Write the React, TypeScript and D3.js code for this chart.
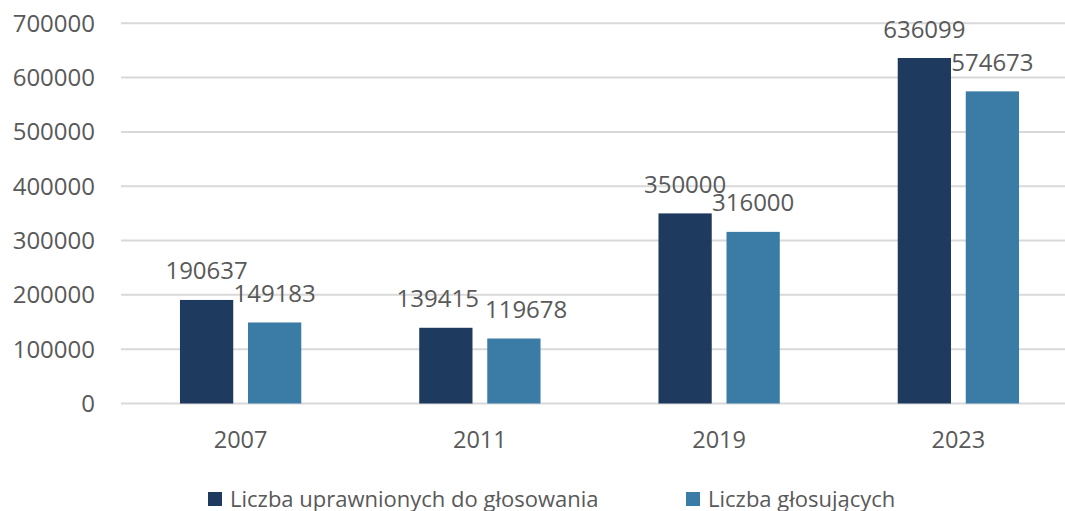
import React, { useEffect, useRef } from 'react';
import * as d3 from 'd3';

const years = ['2007', '2011', '2019', '2023'];
const uprawnieni = [190637, 139415, 350000, 636099];
const glosujacy = [149183, 119678, 316000, 574673];
const seriesNames = ['Liczba uprawnionych do głosowania', 'Liczba głosujących'];
const seriesColors = ['#1f3a5f', '#3a7ca5'];
const yTicks = [0, 100000, 200000, 300000, 400000, 500000, 600000, 700000];

const FONT = '"Open Sans", sans-serif';
const TEXT = '#595959';

export default function App() {
  const ref = useRef<SVGSVGElement>(null);

  useEffect(() => {
    const svg = d3.select(ref.current);
    svg.selectAll('*').remove();

    const left = 121, right = 1078, top = 23.3, bottom = 403.5;

    const y = d3.scaleLinear().domain([0, 700000]).range([bottom, top]);
    const x0 = d3.scaleBand().domain(years).range([left, right]).paddingInner(0.493).paddingOuter(0.2465);
    const x1 = d3.scaleBand().domain(['0', '1']).range([0, x0.bandwidth()]).paddingInner(0.217);

    // grid lines
    svg.append('g').selectAll('line').data(yTicks).join('line')
      .attr('x1', left).attr('x2', 1065)
      .attr('y1', d => y(d)).attr('y2', d => y(d))
      .attr('stroke', '#d9d9d9').attr('stroke-width', 2);

    // y tick labels
    svg.append('g').selectAll('text').data(yTicks).join('text')
      .attr('x', 95).attr('y', d => y(d) + 8.5)
      .attr('text-anchor', 'end')
      .style('font-family', FONT).style('font-size', '24px').attr('fill', TEXT)
      .text(d => String(d));

    // category labels
    svg.append('g').selectAll('text').data(years).join('text')
      .attr('x', d => (x0(d) as number) + x0.bandwidth() / 2).attr('y', 447.5)
      .attr('text-anchor', 'middle')
      .style('font-family', FONT).style('font-size', '23.5px').attr('fill', TEXT)
      .text(d => d);

    // push the two value labels of a group apart when they sit almost on the same line
    const labelW = 82.4;
    const nudge = years.map((yr, i) => {
      const dy = Math.abs(y(uprawnieni[i]) - y(glosujacy[i]));
      const dist = x1.step();
      if (dy >= 15 || dist >= labelW + 6) return [0, 0];
      const need = labelW + 6 - dist;
      return [-need * 0.4, need * 0.6];
    });

    const series = [uprawnieni, glosujacy];
    series.forEach((vals, si) => {
      const g = svg.append('g');
      const rows = years.map((yr, i) => ({ yr, v: vals[i], dx: nudge[i][si] }));
      g.selectAll('rect').data(rows).join('rect')
        .attr('x', d => (x0(d.yr) as number) + (x1(String(si)) as number))
        .attr('width', x1.bandwidth())
        .attr('y', d => y(d.v))
        .attr('height', d => bottom - y(d.v))
        .attr('fill', seriesColors[si]);
      g.selectAll('text').data(rows).join('text')
        .attr('x', d => (x0(d.yr) as number) + (x1(String(si)) as number) + x1.bandwidth() / 2 + d.dx)
        .attr('y', d => y(d.v) - 20.5)
        .attr('text-anchor', 'middle')
        .style('font-family', FONT).style('font-size', '24px').attr('fill', TEXT)
        .text(d => String(d.v));
    });

    // legend
    const legendX = [208, 686];
    const lg = svg.append('g').selectAll('g').data(seriesNames).join('g')
      .attr('transform', (d, i) => `translate(${legendX[i]}, 492)`);
    lg.append('rect').attr('width', 14).attr('height', 14).attr('fill', (d, i) => seriesColors[i]);
    lg.append('text').attr('x', 22).attr('y', 14.5)
      .style('font-family', FONT).style('font-size', '22px').attr('fill', TEXT)
      .text(d => d);
  }, []);

  return (
    <svg ref={ref} width={1065} height={511} style={{ position: 'absolute', left: 0, top: 0 }} />
  );
}
